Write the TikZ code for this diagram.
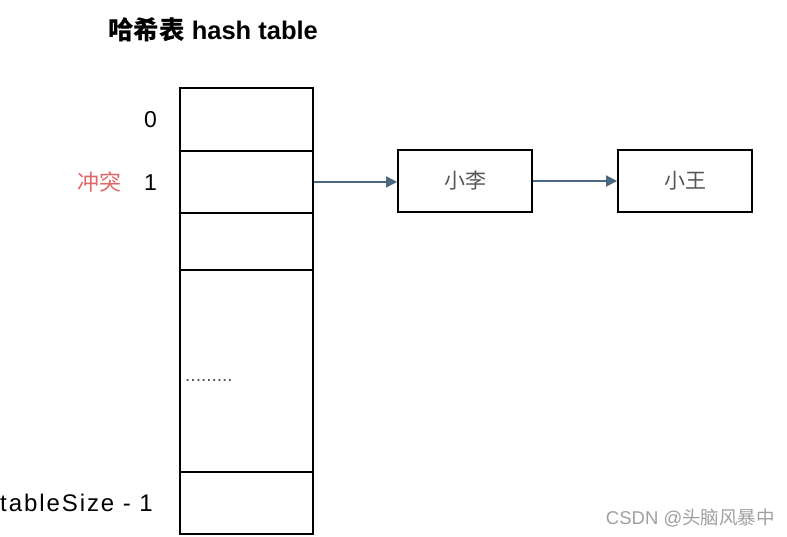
\documentclass[tikz,border=0pt]{standalone}
\usepackage{fontspec}
\setmainfont{Liberation Sans}
\newfontfamily\cjk{Noto Sans CJK SC}
\usetikzlibrary{arrows.meta}
\definecolor{arrowc}{HTML}{4A6784}
\definecolor{redc}{HTML}{E06666}
\definecolor{boxtxt}{HTML}{555555}
\definecolor{wm}{HTML}{A0A0A0}
\tikzset{
  cell/.style={draw=black, line width=1.9pt, minimum width=133pt, inner sep=0pt, anchor=north west},
  item/.style={draw=black, line width=1.9pt, minimum width=134pt, minimum height=62pt, inner sep=0pt, font=\cjk\fontsize{21}{24}\selectfont, text=boxtxt},
  link/.style={draw=arrowc, line width=1.8pt, -{Triangle[length=11pt,width=11pt]}},
  idx/.style={font=\fontsize{23}{26}\selectfont, anchor=east, inner sep=0pt},
}
\begin{document}
\begin{tikzpicture}[x=1pt,y=-1pt]
\useasboundingbox (0,0) rectangle (787,537);
\fill[white] (0,0) rectangle (787,537);
\node[font=\bfseries\fontsize{25.5}{28}\selectfont, anchor=west, inner sep=0pt] (title) at (108,30) {{\cjk\bfseries 哈希表} hash table};
\node[cell, minimum height=63pt] (c0) at (179,87) {};
\node[cell, minimum height=62pt] (c1) at (179,150) {};
\node[cell, minimum height=57pt] (c2) at (179,212) {};
\node[cell, minimum height=202pt] (c3) at (179,269) {};
\node[cell, minimum height=62pt] (c4) at (179,471) {};
\node[idx] (l0) at (157,120) {0};
\node[idx] (l1) at (157,183) {1};
\node[font=\cjk\fontsize{22}{24}\selectfont, text=redc, anchor=east, inner sep=0pt] (conf) at (122,182) {冲突};
\node[idx, font=\fontsize{24}{26}\selectfont\addfontfeatures{LetterSpace=8}] (ln) at (153,503) {tableSize - 1};
\node[font=\fontsize{19}{20}\selectfont, text=boxtxt, anchor=base west, inner sep=0pt] (dots) at (185,381) {.........};
\node[item] (li) at (465,181) {小李};
\node[item] (wang) at (685,181) {小王};
\draw[link] (c1.east) -- (c1.east -| li.west);
\draw[link] (li.east) -- (wang.west);
\node[font=\fontsize{18.5}{20}\selectfont, text=wm, anchor=east, inner sep=0pt] (wmk) at (775,518) {CSDN @{\cjk 头脑风暴中}};
\end{tikzpicture}
\end{document}
